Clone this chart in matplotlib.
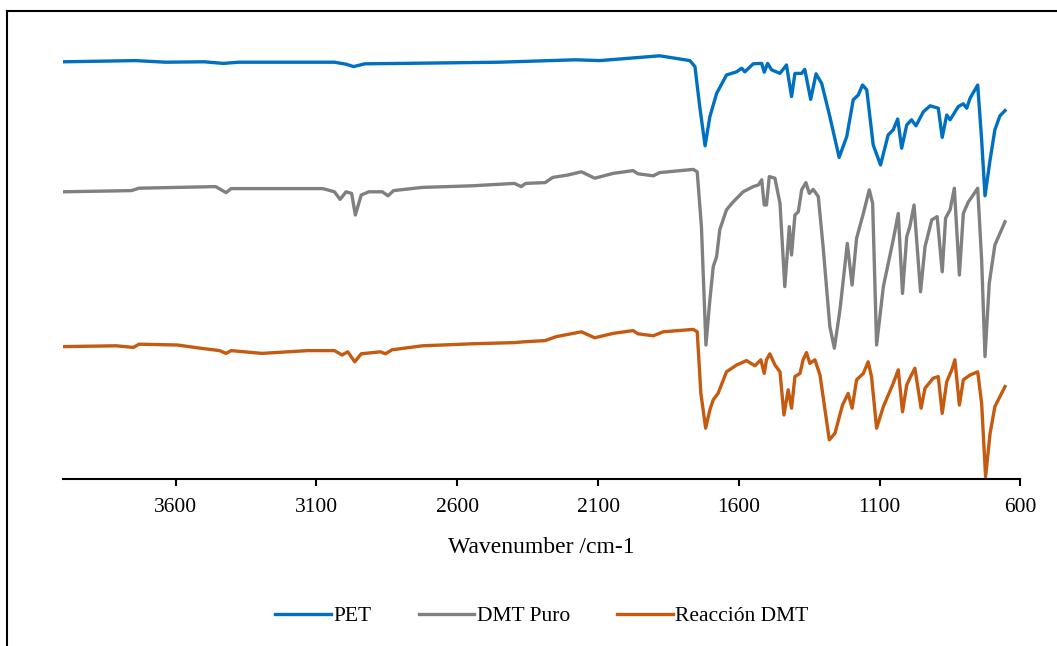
import numpy as np
import matplotlib

matplotlib.use('Agg')

import matplotlib.pyplot as plt
from matplotlib.lines import Line2D

plt.rcParams['font.family'] = ['Liberation Serif', 'DejaVu Serif']

# FTIR spectra, offset transmittance (a.u.) vs wavenumber (cm-1)
pet_wn = [4000, 3743, 3635, 3498, 3431, 3376, 3077, 3036, 2995, 2968, 2928, 2792,
          2452, 2180, 2094, 1881, 1774, 1756, 1739, 1720, 1703, 1679, 1644, 1608,
          1590, 1579, 1549, 1519, 1510, 1498, 1484, 1454, 1431, 1413, 1401, 1377,
          1366, 1345, 1326, 1306, 1277, 1244, 1217, 1194, 1176, 1161, 1146, 1123,
          1097, 1070, 1052, 1036, 1022, 1004, 987, 971, 945, 921, 892, 878, 862,
          850, 821, 803, 791, 779, 752, 738, 726, 708, 691, 673, 655]
pet_t = [104.3, 104.6, 104.2, 104.3, 103.9, 104.2, 104.2, 104.2, 103.7, 103.1, 103.8, 103.9,
         104.2, 104.8, 104.6, 105.8, 104.6, 103.1, 93.1, 83.3, 90.6, 96.4, 101.0, 101.8,
         102.7, 101.8, 103.8, 103.9, 101.7, 103.9, 102.3, 101.4, 103.5, 95.6, 101.4, 101.4,
         102.4, 94.9, 101.3, 98.9, 90.6, 80.4, 85.6, 94.8, 96.0, 98.5, 97.3, 83.5,
         78.5, 86.0, 87.3, 90.0, 82.7, 88.5, 89.8, 88.3, 91.8, 93.3, 92.7, 85.4, 91.0,
         89.8, 93.1, 93.8, 92.7, 95.2, 98.5, 84.8, 70.8, 79.8, 87.3, 90.8, 92.1]

dmt_wn = [4000, 3757, 3730, 3458, 3421, 3403, 3077, 3036, 3016, 2995, 2975, 2962, 2941,
          2914, 2866, 2846, 2826, 2724, 2547, 2397, 2373, 2357, 2288, 2261, 2207, 2159,
          2112, 2047, 1976, 1958, 1904, 1881, 1762, 1748, 1733, 1717, 1703, 1691, 1679,
          1668, 1644, 1620, 1585, 1549, 1531, 1519, 1510, 1502, 1492, 1472, 1454, 1437,
          1421, 1413, 1401, 1389, 1377, 1362, 1350, 1336, 1318, 1301, 1277, 1261, 1241,
          1215, 1198, 1182, 1158, 1137, 1125, 1111, 1087, 1052, 1034, 1019, 1004, 993,
          978, 955, 939, 915, 896, 878, 866, 850, 835, 817, 803, 785, 768, 752, 738,
          726, 711, 691, 655]
dmt_t = [71.8, 72.1, 72.7, 73.1, 71.6, 72.6, 72.6, 71.8, 69.9, 71.8, 71.4, 66.0, 71.0,
         71.8, 71.8, 70.8, 72.1, 72.9, 73.3, 73.9, 73.1, 73.9, 74.1, 75.4, 76.0, 76.8,
         75.2, 76.4, 77.1, 76.3, 75.8, 76.6, 77.4, 76.8, 63.1, 33.5, 44.8, 53.1, 55.6,
         62.3, 67.3, 69.3, 71.8, 73.1, 73.5, 74.8, 68.5, 68.5, 75.6, 75.2, 68.9, 48.1,
         63.1, 56.0, 66.0, 66.8, 72.3, 74.1, 71.4, 72.4, 70.6, 58.1, 38.1, 32.7, 42.3,
         58.9, 48.5, 60.2, 66.4, 72.3, 68.9, 33.5, 48.1, 59.8, 66.4, 46.4, 60.6, 63.1,
         68.5, 46.8, 58.1, 64.8, 65.6, 51.8, 65.2, 67.3, 72.7, 51.0, 66.4, 69.3, 71.0, 72.7, 54.8,
         30.6, 48.9, 58.5, 64.3]

rxn_wn = [4000, 3811, 3750, 3730, 3594, 3512, 3444, 3421, 3403, 3294, 3131, 3036, 3009,
          2989, 2964, 2941, 2873, 2855, 2832, 2724, 2547, 2397, 2363, 2288, 2248, 2159,
          2112, 2047, 1976, 1958, 1904, 1869, 1762, 1748, 1735, 1718, 1703, 1691, 1674,
          1644, 1608, 1573, 1543, 1522, 1510, 1502, 1490, 1472, 1454, 1440, 1425, 1413,
          1401, 1383, 1372, 1360, 1348, 1330, 1312, 1279, 1259, 1232, 1212, 1198, 1182,
          1158, 1141, 1129, 1111, 1087, 1052, 1034, 1019, 1004, 993, 975, 953, 939, 910,
          892, 878, 862, 844, 833, 817, 803, 779, 752, 738, 724, 708, 691, 655]
rxn_t = [33.1, 33.3, 32.9, 33.7, 33.5, 32.7, 32.1, 31.4, 32.1, 31.4, 32.1, 32.1, 31.0,
         31.8, 29.3, 31.3, 31.8, 31.3, 32.3, 33.3, 33.8, 34.1, 34.3, 34.6, 35.6, 36.8,
         35.3, 36.4, 37.1, 36.3, 35.8, 36.8, 37.4, 36.8, 21.4, 12.7, 17.3, 19.8, 21.4,
         26.8, 28.5, 29.6, 28.3, 29.8, 26.4, 29.8, 31.3, 28.5, 26.8, 16.0, 22.3, 17.7,
         25.6, 26.4, 29.8, 31.6, 28.9, 29.8, 26.0, 9.8, 11.4, 18.5, 21.4, 17.7, 24.8,
         26.4, 29.3, 25.6, 12.7, 18.1, 23.9, 27.3, 16.8, 23.5, 25.2, 27.7, 17.7, 22.7, 25.2,
         25.6, 16.4, 24.3, 27.3, 29.8, 18.5, 24.8, 26.0, 26.8, 18.9, 0.6, 11.4, 18.1, 23.1]

labels = ['PET', 'DMT Puro', 'Reacción DMT']
colors = ['#0070C0', '#808080', '#C55A11']
ticks = [3600, 3100, 2600, 2100, 1600, 1100, 600]

fig = plt.figure(figsize=(10.57, 6.46), dpi=100)
ax = fig.add_axes([63 / 1057, 167 / 646, (1020.5 - 63) / 1057, 440 / 646])

for wn, t, lab, c in zip([pet_wn, dmt_wn, rxn_wn], [pet_t, dmt_t, rxn_t], labels, colors):
    ax.plot(wn, t, color=c, lw=2.4, label=lab, solid_joinstyle='round')

ax.set_xlim(4000, 600)
ax.set_ylim(0, 110)
ax.set_xticks(ticks)
ax.set_yticks([])
for s in ['top', 'right', 'left']:
    ax.spines[s].set_visible(False)
ax.spines['bottom'].set_linewidth(1.5)
ax.tick_params(axis='x', direction='out', length=5, width=1.5, labelsize=15.5, pad=9)
ax.set_xlabel('Wavenumber /cm-1', fontsize=17, labelpad=14)

ax.legend(loc='upper center', bbox_to_anchor=(0.5, -0.245), ncol=3, frameon=False,
          fontsize=15.5, handlelength=2.6, handletextpad=0.1, columnspacing=2.2)

# outer frame (top and left edges visible)
fig.add_artist(Line2D([7 / 1057, 7 / 1057], [0, 1 - 11 / 646], color='black', lw=1.5,
                      transform=fig.transFigure))
fig.add_artist(Line2D([7 / 1057, 1], [1 - 11 / 646, 1 - 11 / 646], color='black', lw=1.5,
                      transform=fig.transFigure))

fig.savefig('out.png', dpi=100)
